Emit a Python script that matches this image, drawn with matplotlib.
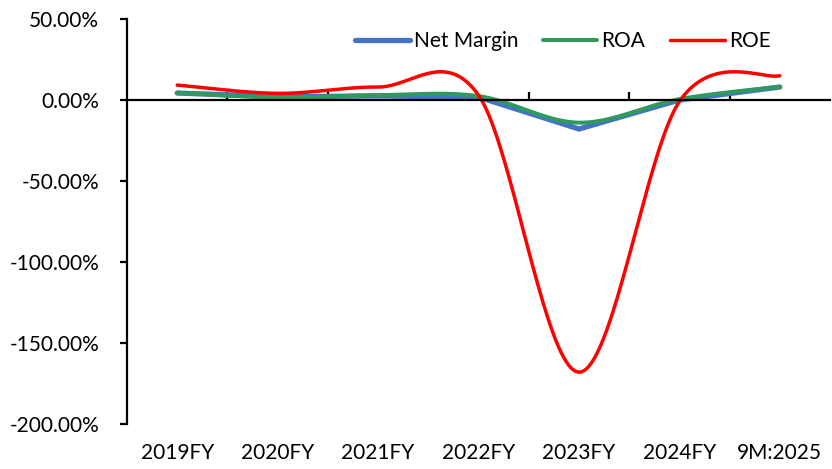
import numpy as np
import matplotlib
matplotlib.use("Agg")
import matplotlib.pyplot as plt
from matplotlib.ticker import FuncFormatter, FixedLocator

plt.rcParams['font.family'] = ['Lato', 'DejaVu Sans']

# Profitability ratios (%)
periods = ["2019FY", "2020FY", "2021FY", "2022FY", "2023FY", "2024FY", "9M:2025"]
net_margin = [4.3, 2.0, 2.5, 1.8, -17.9, 0.0, 8.0]
roa = [4.5, 1.6, 3.0, 2.4, -14.0, 0.5, 8.2]
roe = [9.2, 4.1, 8.0, 3.0, -168.0, -1.0, 15.0]


def smooth(xs, ys, n=40):
    # Catmull-Rom style cubic Bezier through every point (spreadsheet "smoothed line")
    xs = np.asarray(xs, float)
    ys = np.asarray(ys, float)
    px = np.concatenate([[xs[0]], xs, [xs[-1]]])
    py = np.concatenate([[ys[0]], ys, [ys[-1]]])
    out_x, out_y = [], []
    t = np.linspace(0, 1, n)
    for i in range(1, len(px) - 2):
        p0 = np.array([px[i], py[i]])
        p3 = np.array([px[i + 1], py[i + 1]])
        c1 = p0 + (np.array([px[i + 1], py[i + 1]]) - np.array([px[i - 1], py[i - 1]])) / 6
        c2 = p3 - (np.array([px[i + 2], py[i + 2]]) - np.array([px[i], py[i]])) / 6
        b = ((1 - t) ** 3)[:, None] * p0 + (3 * (1 - t) ** 2 * t)[:, None] * c1 \
            + (3 * (1 - t) * t ** 2)[:, None] * c2 + (t ** 3)[:, None] * p3
        out_x.extend(b[:, 0])
        out_y.extend(b[:, 1])
    return out_x, out_y


fig = plt.figure(figsize=(8.32, 4.69), dpi=100)
ax = fig.add_axes([127 / 832, 45 / 469, 703 / 832, 405 / 469])

x = np.arange(len(periods)) + 0.5

# net margin is a plain polyline, the two return ratios are smoothed
ax.plot(x, net_margin, color="#4472C4", lw=3.8, label="Net Margin",
        solid_capstyle="round", solid_joinstyle="miter")
sx, sy = smooth(x, roa)
ax.plot(sx, sy, color="#2F9A5E", lw=2.9, label="ROA", solid_capstyle="round")
sx, sy = smooth(x, roe)
ax.plot(sx, sy, color="#FF0000", lw=2.5, label="ROE", solid_capstyle="round")

ax.set_xlim(0, len(periods))
ax.set_ylim(-200, 50)
ax.yaxis.set_major_locator(FixedLocator([-200, -150, -100, -50, 0, 50]))
ax.yaxis.set_major_formatter(FuncFormatter(lambda v, p: f"{v:.2f}%"))

for s in ["top", "right"]:
    ax.spines[s].set_visible(False)
ax.spines["left"].set_linewidth(1.6)
ax.spines["bottom"].set_linewidth(1.6)
ax.spines["bottom"].set_position(("data", 0))
ax.spines["bottom"].set_clip_on(False)

ax.set_xticks(np.arange(1, len(periods)))
ax.set_xticklabels([])
ax.tick_params(axis="x", direction="in", length=6, width=1.6)
ax.tick_params(axis="y", direction="out", length=5, width=1.6, labelsize=15, pad=15)

for xi, lab in zip(x, periods):
    ax.text(xi, -0.072, lab, transform=ax.get_xaxis_transform(),
            ha="center", va="center", fontsize=15)

fig.legend(loc="center", bbox_to_anchor=(563 / 832, 1 - 41 / 469), ncol=3,
           frameon=False, fontsize=15, handlelength=2.6, handletextpad=0.2,
           columnspacing=1.2)

fig.savefig("out.png", dpi=100)
